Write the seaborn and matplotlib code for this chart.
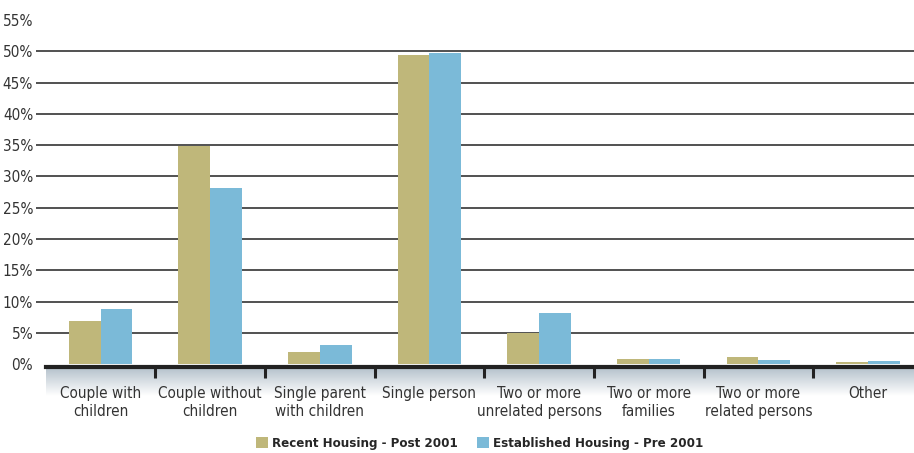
import numpy as np
import pandas as pd
import matplotlib.pyplot as plt
import seaborn as sns
from matplotlib.colors import LinearSegmentedColormap


categories = [
    "Couple with\nchildren",
    "Couple without\nchildren",
    "Single parent\nwith children",
    "Single person",
    "Two or more\nunrelated persons",
    "Two or more\nfamilies",
    "Two or more\nrelated persons",
    "Other",
]
recent = [6.9, 34.8, 1.9, 49.4, 5.0, 0.8, 1.1, 0.3]
established = [8.9, 28.2, 3.1, 49.7, 8.2, 0.8, 0.65, 0.5]
series_names = ["Recent Housing - Post 2001", "Established Housing - Pre 2001"]
y_ticks = [0, 5, 10, 15, 20, 25, 30, 35, 40, 45, 50, 55]

colors = ["#BFB77A", "#7BBAD8"]

sns.set_theme(style="white")
plt.rcParams["font.family"] = ["Liberation Sans Narrow", "DejaVu Sans"]
plt.rcParams["font.stretch"] = "condensed"


def build_frame():
    df = pd.DataFrame({
        "category": categories * 2,
        "series": [series_names[0]] * len(categories) + [series_names[1]] * len(categories),
        "value": recent + established,
    })
    return df


def main():
    df = build_frame()

    fig = plt.figure(figsize=(9.14, 4.53), dpi=100)

    # light band under the baseline
    band = fig.add_axes([0.050, 0.125, 0.950, 0.068], zorder=0)
    band_cmap = LinearSegmentedColormap.from_list("band", ["#AEBCC7", "#FFFFFF"])
    grad = np.linspace(0, 1, 64).reshape(-1, 1)
    band.imshow(grad, aspect="auto", cmap=band_cmap, extent=[0, 1, 0, 1], origin="upper")
    band.set_axis_off()

    ax = fig.add_axes([0.050, 0.196, 0.950, 0.760], zorder=1)
    ax.patch.set_alpha(0)

    sns.barplot(
        data=df,
        x="category",
        y="value",
        hue="series",
        palette=colors,
        width=0.58,
        gap=0,
        saturation=1,
        linewidth=0,
        ax=ax,
        legend=True,
    )

    ax.set_xlim(-0.5, 7.42)
    ax.set_ylim(0, 55)
    ax.set_yticks(y_ticks)
    ax.set_yticklabels([f"{t}%" for t in y_ticks], fontsize=11, color="#333333")
    ax.set_xlabel("")
    ax.set_ylabel("")

    ax.set_axisbelow(True)
    for t in y_ticks[1:-1]:
        ax.axhline(t, color="#222222", linewidth=1.1, zorder=0)

    for side in ["top", "right", "left"]:
        ax.spines[side].set_visible(False)
    ax.spines["bottom"].set_color("#222222")
    ax.spines["bottom"].set_linewidth(3.0)
    ax.spines["bottom"].set_position(("outward", 2))

    ax.tick_params(axis="y", which="major", length=7, width=1.1, color="#222222",
                   left=True, pad=2)
    ax.yaxis.get_major_ticks()[-1].tick1line.set_visible(False)
    ax.yaxis.get_major_ticks()[0].tick1line.set_visible(False)

    ax.set_xticks(range(len(categories)))
    ax.set_xticklabels(categories, fontsize=11, color="#333333", linespacing=1.25)
    ax.tick_params(axis="x", which="major", length=0, pad=14)
    ax.set_xticks([i + 0.5 for i in range(7)], minor=True)
    ax.tick_params(axis="x", which="minor", length=8, width=2.2, color="#222222",
                   direction="out", bottom=True)

    handles, labels = ax.get_legend_handles_labels()
    ax.get_legend().remove()
    fig.legend(
        handles,
        labels,
        loc="lower center",
        bbox_to_anchor=(0.525, -0.02),
        ncol=2,
        frameon=False,
        handlelength=0.9,
        handleheight=0.9,
        handletextpad=0.3,
        columnspacing=1.5,
        prop={"size": 9.5, "weight": "bold"},
    )

    fig.savefig("out.png", dpi=100)
    plt.close(fig)


if __name__ == "__main__":
    main()
